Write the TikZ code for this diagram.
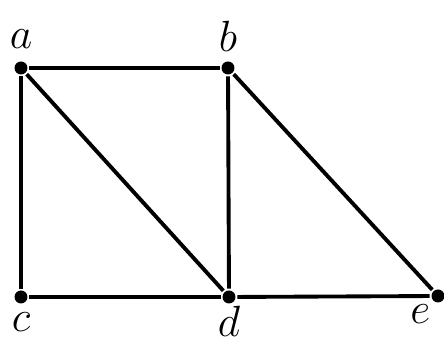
\documentclass[tikz,border=0pt]{standalone}
\usepackage{amsmath,amssymb}
\usepackage{tikz}
\usetikzlibrary{positioning,calc}
\usepackage{xcolor}

\begin{document}
\begin{tikzpicture}[x=0.02cm, y=-0.02cm, line width=2.2pt,
  every node/.style={circle, fill, inner sep=0pt, minimum size=0.26cm},
  every label/.style={draw=none, fill=none, font=\fontsize{26}{30}\selectfont, inner sep=0pt}]
\useasboundingbox (0,0) rectangle (444,347);
\node[label={[label distance=0.08cm]above:$a$}] (a) at (21,68) {};
\node[label={[label distance=0.08cm]above:$b$}] (b) at (228,68) {};
\node[label={[label distance=0.04cm]below:$c$}] (c) at (21,297) {};
\node[label={[label distance=-0.1cm]below:$d$}] (d) at (229,297) {};
\node[label={[label distance=0.02cm]below left:$e$}] (e) at (438,296) {};
\draw (a) -- (b);
\draw (a) -- (c);
\draw (a) -- (d);
\draw (b) -- (d);
\draw (b) -- (e);
\draw (c) -- (d);
\draw (d) -- (e);
\end{tikzpicture}
\end{document}
